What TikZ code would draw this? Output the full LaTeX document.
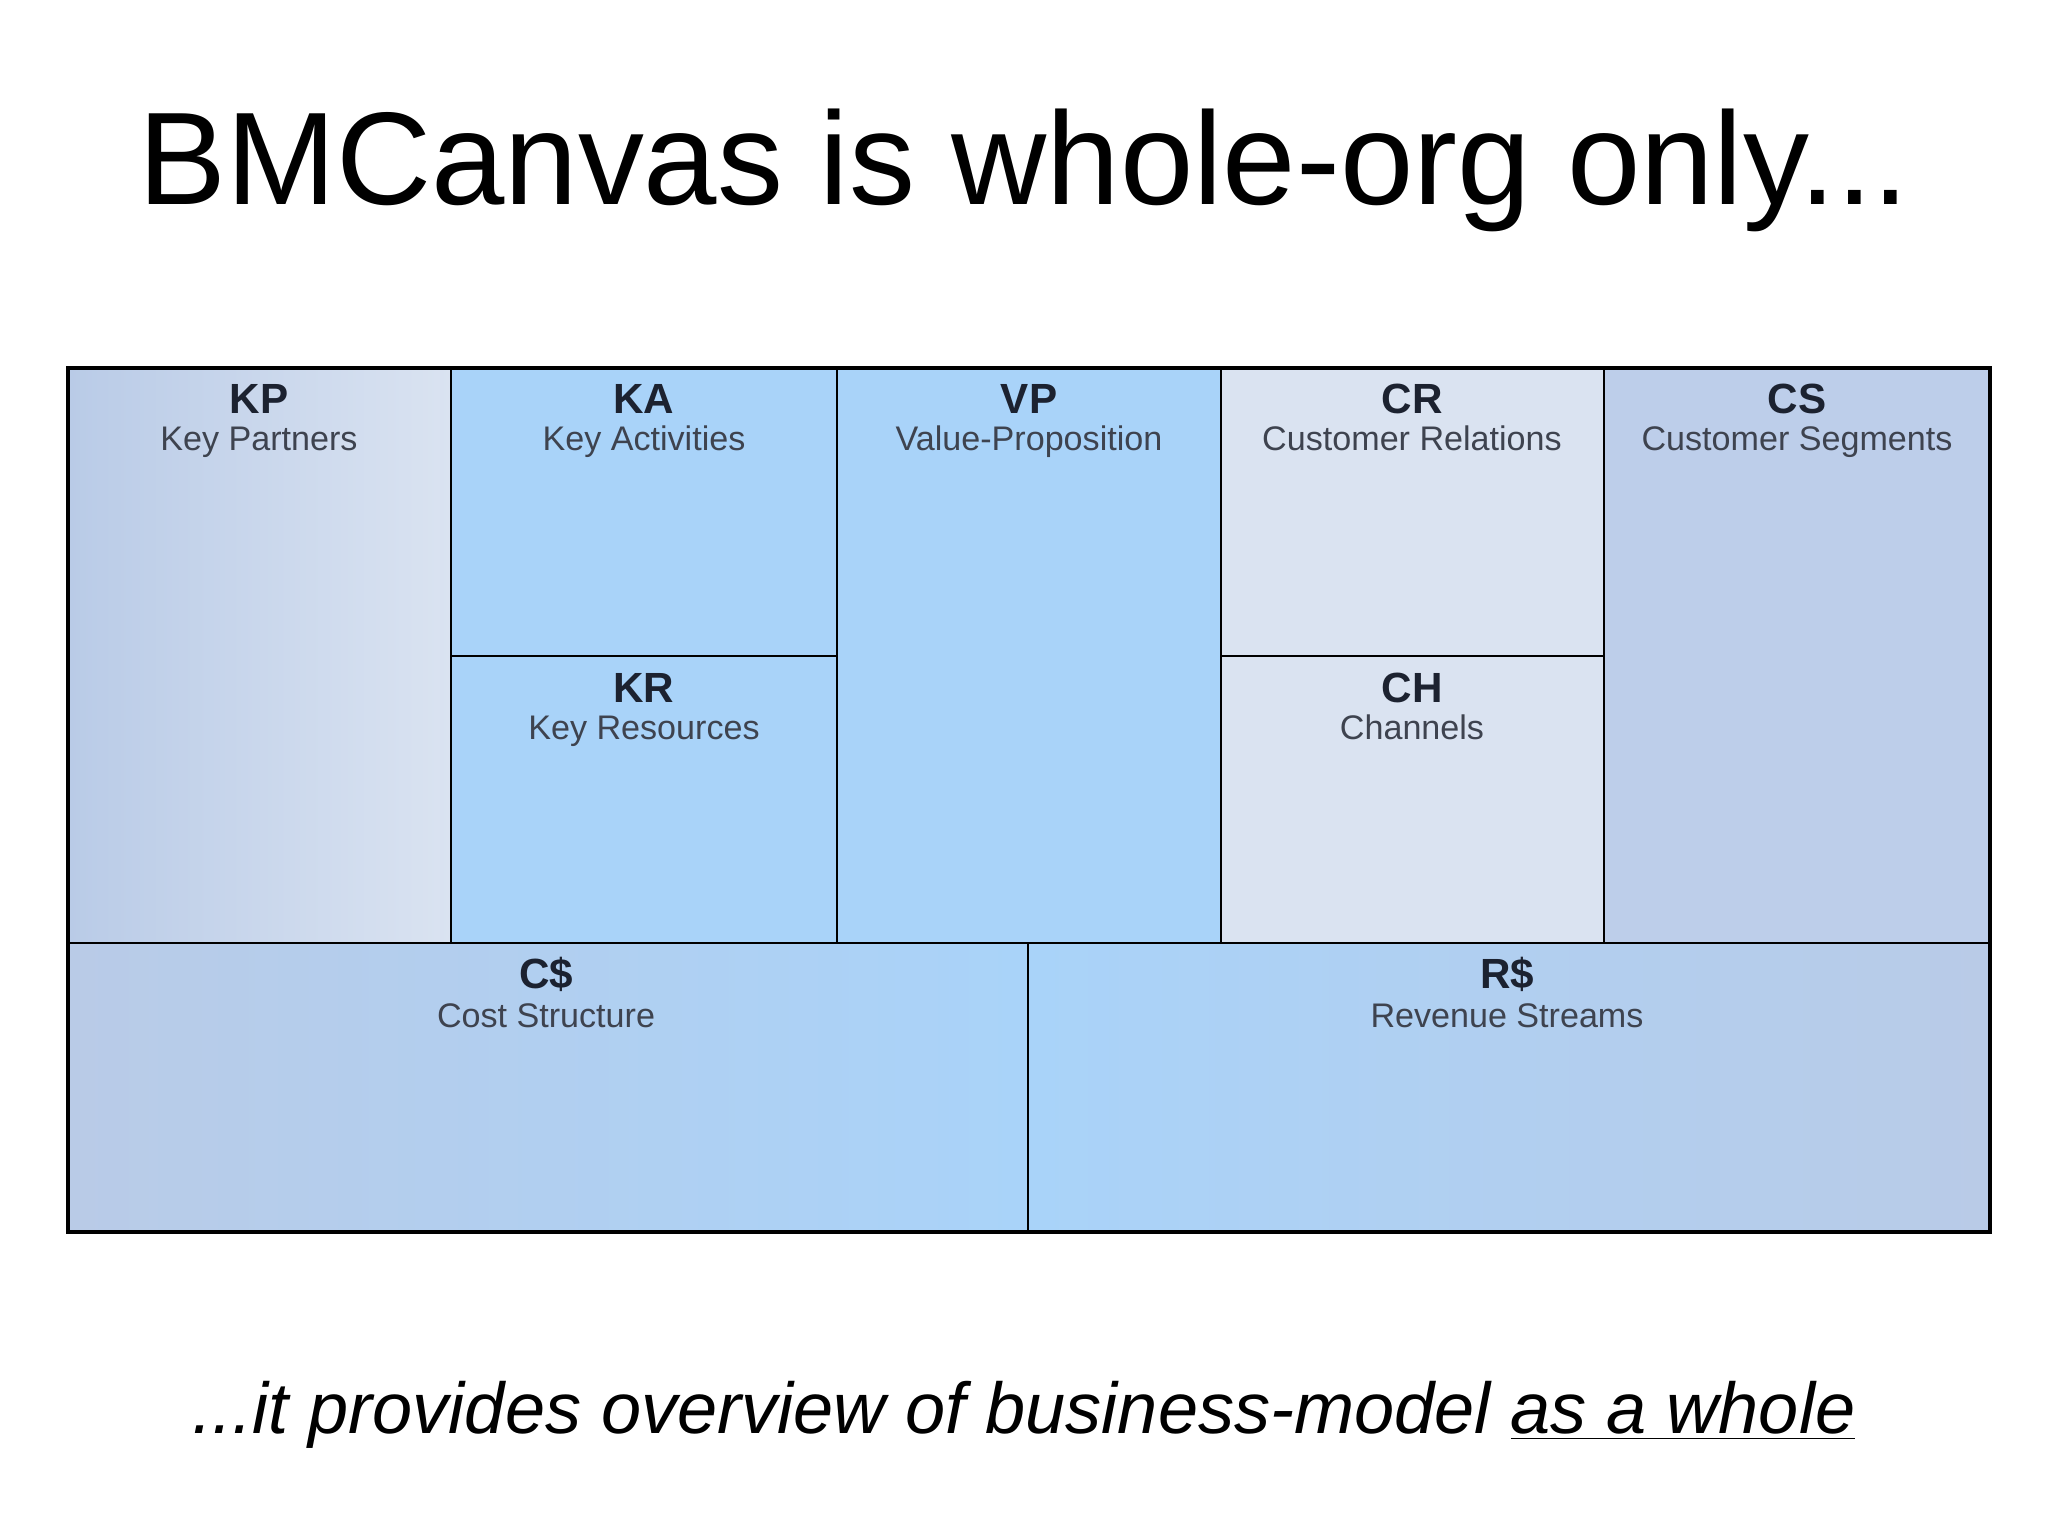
\documentclass[tikz,border=0pt]{standalone}
\usepackage{fontspec}
\setmainfont{Liberation Sans}
\definecolor{kablue}{HTML}{A9D3F9}
\definecolor{crgrey}{HTML}{DAE3F1}
\definecolor{csblue}{HTML}{BDCEEA}
\definecolor{slate}{HTML}{B9CBE7}
\definecolor{labelink}{HTML}{1C2230}
\tikzset{abbr/.style={font=\fontsize{12}{14}\selectfont\bfseries, text=labelink, inner sep=0pt, anchor=base}}
\tikzset{lbl/.style={font=\fontsize{9.7}{12}\selectfont, text=labelink!85, inner sep=0pt, anchor=base}}
\tikzset{gridline/.style={line width=0.8pt, black}}

\begin{document}
\begin{tikzpicture}[x=0.01cm,y=-0.01cm]

	  \useasboundingbox (0,0) rectangle (2048,1536);

	  \node [anchor=base, font=\fontsize{37.5}{44}\selectfont] (title) at (1024,204) {BMCanvas is whole-org only...};

	  % fills of the cells
	  \shade [left color=slate, right color=crgrey] (68,368) rectangle (451,943);
	  \fill [kablue] (451,368) rectangle (1221,943);
	  \fill [crgrey] (1221,368) rectangle (1604,943);
	  \fill [csblue] (1604,368) rectangle (1990,943);
	  \shade [left color=slate, right color=kablue] (68,943) rectangle (1028,1232);
	  \shade [left color=kablue, right color=slate] (1028,943) rectangle (1990,1232);

	  % grid
	  \draw [gridline, line width=1pt] (68,368) rectangle (1990,1232);
	  \draw [gridline] (68,943) -- (1990,943);
	  \foreach \x in {451,837,1221,1604}
	    \draw [gridline] (\x,368) -- (\x,943);
	  \draw [gridline] (451,656) -- (837,656);
	  \draw [gridline] (1221,656) -- (1604,656);
	  \draw [gridline, line width=0.6pt] (1028,943) -- (1028,1232);

	  \node [abbr] (kp) at (259,413) {KP};
	  \node [lbl] (kpn) at (259,450) {Key Partners};

	  \node [abbr] (ka) at (644,413) {KA};
	  \node [lbl] (kan) at (644,450) {Key Activities};

	  \node [abbr] (kr) at (644,702) {KR};
	  \node [lbl] (krn) at (644,739) {Key Resources};

	  \node [abbr] (vp) at (1029,413) {VP};
	  \node [lbl] (vpn) at (1029,450) {Value-Proposition};

	  \node [abbr] (cr) at (1412,413) {CR};
	  \node [lbl] (crn) at (1412,450) {Customer Relations};

	  \node [abbr] (ch) at (1412,702) {CH};
	  \node [lbl] (chn) at (1412,739) {Channels};

	  \node [abbr] (cs) at (1797,413) {CS};
	  \node [lbl] (csn) at (1797,450) {Customer Segments};

	  \node [abbr] (cost) at (546,988) {C\$};
	  \node [lbl] (costn) at (546,1027) {Cost Structure};

	  \node [abbr] (rev) at (1507,988) {R\$};
	  \node [lbl] (revn) at (1507,1027) {Revenue Streams};

	  \node [anchor=base, font=\fontsize{20.5}{24}\selectfont\itshape] (note) at (1024,1433) {...it provides overview of business-model \underline{as a whole}};

\end{tikzpicture}
\end{document}
